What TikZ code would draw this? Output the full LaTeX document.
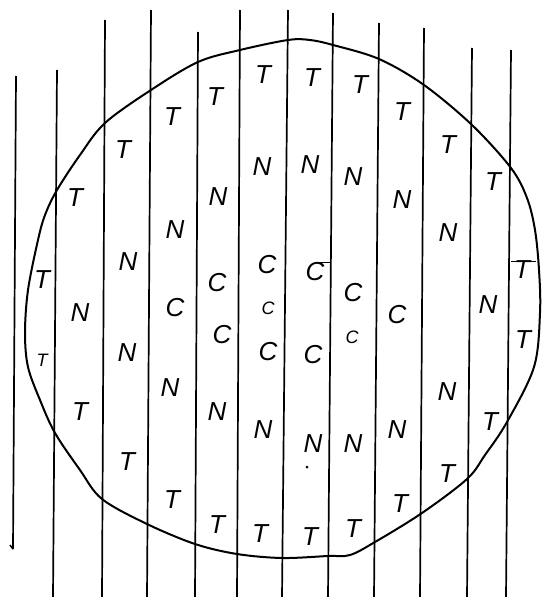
\documentclass[tikz,border=0pt]{standalone}
\usepackage{fontspec}
\setmainfont{Liberation Sans}
\begin{document}
\begin{tikzpicture}[x=1pt,y=-1pt,
  vline/.style={line width=1.7pt,black},
  blob/.style={line width=2pt,black,line join=round},
  letter/.style={inner sep=0pt,font=\fontsize{26}{26}\selectfont\itshape},
  smallletter/.style={inner sep=0pt,font=\fontsize{18}{18}\selectfont\itshape}]
\useasboundingbox (0,0) rectangle (545,597);
% vertical lines
\foreach \i/\xt/\yt/\xb/\yb in {1/16/76/13/549, 2/57/70/53/597, 3/105/20/102/597,
  4/151/10/147/597, 5/198/32/195/597, 6/240/10/237/597, 7/288/10/282/597,
  8/333/13/328/597, 9/379/23/374/597, 10/424/28/420/597, 11/472/48/467/597,
  12/511/50/506/597}{
  \coordinate (top\i) at (\xt,\yt);
  \coordinate (bot\i) at (\xb,\yb);
  \draw[vline] (top\i) -- (bot\i);
}
% the closed curve
\draw[blob] plot[smooth cycle,tension=0.55] coordinates {
 (57,190) (80,155) (105,123) (151,90) (198,62) (240,50)
 (288,40) (310,40) (333,45) (379,59) (424,85)
 (472,125) (511,168) (527,198) (535,230) (539,270) (540,313)
 (534,367) (507,422) (485,455) (467,479) (422,513)
 (375,542) (350,555) (328,556) (282,558) (237,554) (195,544)
 (147,524) (102,499) (80,470) (55,433) (40,400)
 (28,367) (25,333) (28,290) (38,240) (45,215)};
% T letters
\foreach \i/\x/\y in {1/75/198, 2/123/150, 3/172/117, 4/215/97, 5/263/75,
  6/312/78, 7/360/85, 8/402/112, 9/448/145, 10/493/182, 11/522/270,
  12/523/340, 13/490/422, 14/447/474, 15/400/504, 16/353/529, 17/310/537,
  18/260/534, 19/217/525, 20/172/500, 21/127/462, 22/80/412, 24/42/280}{
  \node[letter] (t\i) at (\x,\y) {T};
}
\node[smallletter] (t23) at (42,360) {T};
% N letters
\foreach \i/\x/\y in {1/262/167, 2/218/197, 3/175/230, 4/128/262, 5/80/313,
  6/127/353, 7/170/388, 8/217/412, 9/263/430, 10/313/444, 11/353/444,
  12/397/430, 13/447/392, 14/488/305, 15/448/233, 16/402/200, 17/353/177,
  18/310/165}{
  \node[letter] (n\i) at (\x,\y) {N};
}
% C letters
\foreach \i/\x/\y in {1/175/308, 2/217/283, 3/222/335, 4/267/265, 6/268/352,
  7/315/272, 8/313/355, 9/353/293, 11/397/315}{
  \node[letter] (c\i) at (\x,\y) {C};
}
\foreach \i/\x/\y in {5/268/308, 10/352/337}{
  \node[smallletter] (c\i) at (\x,\y) {C};
}
% extended bars
\draw[line width=1.5pt] (320,262.5) -- (330,262.5);
\draw[line width=1.8pt] (511,261.5) -- (536,261.5);
% dot under N
\fill (307,467) circle (1.5pt);
% small tick at end of first line
\draw[line width=1.5pt] (bot1) -- ++(-3,-4);
\end{tikzpicture}
\end{document}
